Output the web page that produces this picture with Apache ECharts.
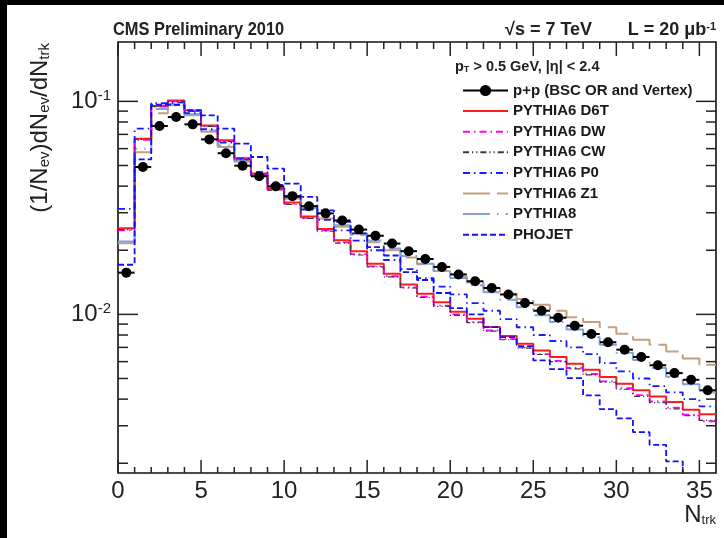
<!DOCTYPE html>
<html><head><meta charset="utf-8">
<script src="https://cdn.jsdelivr.net/npm/echarts@6/dist/echarts.min.js"></script>
<style>html,body{margin:0;padding:0;background:#fff;} #c{width:724px;height:538px;}</style>
</head><body><div id="c"></div>
<script>
// ---- data: per-bin values, bins of width 1 from 0 to 36 ----
const nBins = 36;
const dataPP = [0.0157,0.0492,0.0766,0.0844,0.0780,0.0663,0.0571,0.0499,0.0445,0.0399,0.0359,0.0322,0.0298,0.0276,0.0250,0.0234,0.0215,0.0198,0.0182,0.0167,0.0154,0.0143,0.0133,0.0124,0.0113,0.0104,0.00965,0.00885,0.00809,0.00740,0.00683,0.00631,0.00577,0.00530,0.00493,0.00440];
const d6t = [0.0254,0.0668,0.0950,0.1010,0.0905,0.0770,0.0656,0.0540,0.0458,0.0390,0.0335,0.0288,0.0252,0.0223,0.0198,0.0173,0.0155,0.0138,0.0125,0.0114,0.0103,0.00954,0.00872,0.00791,0.00728,0.00677,0.00630,0.00587,0.00550,0.00508,0.00473,0.00440,0.00412,0.00388,0.00357,0.00340];
const dw = [0.0248,0.0660,0.0945,0.1000,0.0900,0.0765,0.0650,0.0535,0.0452,0.0385,0.0330,0.0284,0.0248,0.0218,0.0192,0.0168,0.0151,0.0134,0.0121,0.0110,0.0100,0.00920,0.00840,0.00765,0.00700,0.00650,0.00605,0.00560,0.00525,0.00485,0.00450,0.00418,0.00390,0.00365,0.00338,0.00315];
const cw = [0.0250,0.0665,0.0948,0.1002,0.0898,0.0762,0.0648,0.0533,0.0450,0.0383,0.0328,0.0282,0.0246,0.0216,0.0190,0.0167,0.0150,0.0133,0.0120,0.0109,0.0099,0.00915,0.00835,0.00760,0.00695,0.00648,0.00600,0.00555,0.00520,0.00480,0.00445,0.00412,0.00385,0.00360,0.00335,0.00318];
const p0 = [0.0313,0.0745,0.0980,0.0990,0.0880,0.0740,0.0640,0.0540,0.0465,0.0405,0.0355,0.0310,0.0278,0.0248,0.0222,0.0200,0.0180,0.0163,0.0148,0.0135,0.0124,0.0113,0.0104,0.0095,0.0087,0.0080,0.0075,0.0070,0.0065,0.0059,0.0054,0.0050,0.0046,0.0043,0.0040,0.0037];
const z1 = [0.0216,0.0577,0.0880,0.0960,0.0860,0.0720,0.0610,0.0520,0.0450,0.0395,0.0350,0.0312,0.0282,0.0258,0.0236,0.0218,0.0200,0.0185,0.0172,0.0160,0.0150,0.0141,0.0133,0.0125,0.0118,0.0111,0.0104,0.0097,0.0092,0.0087,0.0081,0.0076,0.0072,0.0067,0.0062,0.0058];
const py8 = [0.0220,0.0600,0.0920,0.0970,0.0870,0.0730,0.0620,0.0530,0.0455,0.0395,0.0350,0.0315,0.0285,0.0262,0.0240,0.0222,0.0204,0.0188,0.0173,0.0160,0.0148,0.0137,0.0127,0.0117,0.0108,0.0099,0.0092,0.0085,0.0078,0.0072,0.0066,0.0061,0.0056,0.0051,0.0047,0.0043];
const phojet = [0.0171,0.0534,0.0965,0.0960,0.0910,0.0860,0.0745,0.0633,0.0548,0.0483,0.0411,0.0356,0.0308,0.0272,0.0240,0.0207,0.0189,0.0158,0.0145,0.0126,0.0107,0.0100,0.00872,0.00782,0.0071,0.00608,0.00553,0.00502,0.00417,0.00359,0.00325,0.0028,0.00244,0.00204,0.0017,0.0015];

const xMin = 0, xMax = 36, yMin = 0.0018, yMax = 0.19;
const xMajorTicks = [0,5,10,15,20,25,30,35];
const xMinorTicks = [1,2,3,4,6,7,8,9,11,12,13,14,16,17,18,19,21,22,23,24,26,27,28,29,31,32,33,34];
const yMajorTicks = [0.01,0.1];
const yMinorTicks = [0.002,0.003,0.004,0.005,0.006,0.007,0.008,0.009,0.02,0.03,0.04,0.05,0.06,0.07,0.08,0.09];

const FONT = "'Liberation Sans',Arial,sans-serif";

function histData(vals){
  const out = [];
  for (let i = 0; i < vals.length; i++) out.push([i, vals[i]]);
  out.push([vals.length, vals[vals.length-1]]);
  return out;
}
function histSeries(name, vals, color, width, dash, z){
  return {name: name, type:'line', step:'end', data: histData(vals), symbol:'none',
    lineStyle:{color: color, width: width, type: dash}, itemStyle:{color: color}, z: z||2, animation:false};
}

const models = [
  histSeries('PYTHIA6 D6T', d6t, '#ff1a1a', 2, 'solid', 3),
  histSeries('PYTHIA6 DW', dw, '#ff00ff', 1.8, [7,4,1.5,4], 3),
  histSeries('PYTHIA6 CW', cw, '#3a3a3a', 1.2, [6,3,1.2,3,1.2,3], 3),
  histSeries('PYTHIA6 P0', p0, '#1a1aff', 1.8, [7,4,1.5,4], 3),
  histSeries('PYTHIA6 Z1', z1, '#c4a07c', 2, [27,7], 2),
  histSeries('PYTHIA8', py8, '#7fa2d8', 2, [27,7,1.5,7], 2),
  histSeries('PHOJET', phojet, '#1010ff', 1.8, [6,3], 3)
];

const xTickData = xMajorTicks.map(v => [v, yMin, 1]).concat(xMinorTicks.map(v => [v, yMin, 0]));
const yTickData = yMajorTicks.map(v => [xMin, v, 1]).concat(yMinorTicks.map(v => [xMin, v, 0]));

const chart = echarts.init(document.getElementById('c'), null, {renderer:'canvas'});
chart.setOption({
  backgroundColor:'#fff',
  animation:false,
  grid:{left:118, right:8, top:42, bottom:65, show:true, borderColor:'#111', borderWidth:1.6, backgroundColor:'transparent'},
  xAxis:{type:'value', min:xMin, max:xMax, interval:5,
    axisLine:{show:false}, axisTick:{show:false}, splitLine:{show:false},
    axisLabel:{show:true, showMaxLabel:false, fontSize:24, color:'#222', fontFamily:FONT, margin:6}},
  yAxis:{type:'log', logBase:10, min:yMin, max:yMax,
    axisLine:{show:false}, axisTick:{show:false}, splitLine:{show:false},
    axisLabel:{show:true, showMinLabel:false, showMaxLabel:false, margin:7, fontFamily:FONT,
      formatter: function(v){
        const l = Math.log10(v), e = Math.round(l);
        if (Math.abs(l - e) > 1e-6) return '';
        return '{b|10}{s|' + e + '}';
      },
      rich:{b:{fontSize:24, color:'#222', fontFamily:FONT, lineHeight:26}, s:{fontSize:15, color:'#222', fontFamily:FONT, verticalAlign:'top', lineHeight:15}}
    }},
  legend:{orient:'vertical', left:457, top:78, itemWidth:45, itemHeight:14, itemGap:5.6, selectedMode:false,
    itemStyle:{opacity:0},
    textStyle:{fontSize:15, fontWeight:'bold', color:'#1a1a1a', fontFamily:FONT},
    data:[
      {name:'p+p (BSC OR and Vertex)', lineStyle:{width:2, color:'#000', opacity:1}, itemStyle:{opacity:1, color:'#000'}},
      'PYTHIA6 D6T','PYTHIA6 DW','PYTHIA6 CW','PYTHIA6 P0','PYTHIA6 Z1','PYTHIA8','PHOJET'
    ]},
  graphic:[
    {type:'rect', shape:{x:0,y:0,width:7,height:538}, style:{fill:'#000'}, z:100},
    {type:'rect', shape:{x:0,y:0,width:724,height:5}, style:{fill:'#000'}, z:100},
    {type:'text', x:113, y:30, scaleX:0.91, style:{text:'CMS Preliminary 2010', font:"bold 18px "+FONT, fill:'#222', verticalAlign:'middle'}},
    {type:'text', x:505, y:30, style:{text:'√s = 7 TeV', font:"bold 18px "+FONT, fill:'#222', verticalAlign:'middle'}},
    {type:'text', x:716, y:30, style:{text:'L = 20 μb{s|-1}', font:"bold 18px "+FONT, fill:'#222', align:'right', verticalAlign:'middle',
      rich:{s:{fontSize:11, fontWeight:'bold', fontFamily:FONT, verticalAlign:'top'}}}},
    {type:'text', x:455, y:67, style:{text:'p{s|T} > 0.5 GeV, |η| < 2.4', font:"bold 14.5px "+FONT, fill:'#222', verticalAlign:'middle',
      rich:{s:{fontSize:9, fontWeight:'bold', verticalAlign:'bottom'}}}},
    {type:'text', x:40, y:43, rotation:Math.PI/2, style:{text:'(1/N{s|ev})dN{s|ev}/dN{s|trk}', font:"24px "+FONT, fill:'#222', align:'right', verticalAlign:'middle',
      rich:{s:{fontSize:15, fontFamily:FONT, verticalAlign:'bottom'}}}},
    {type:'text', right:8, top:503, style:{text:'N{s|trk}', font:"24px "+FONT, fill:'#222',
      rich:{s:{fontSize:13, fontFamily:FONT, verticalAlign:'bottom'}}}}
  ],
  series: models.concat([
    {type:'custom', name:'xticks', silent:true, data:xTickData, z:20,
      renderItem:function(params, api){
        const v = api.value(0), major = api.value(2);
        const pb = api.coord([v, yMin]), pt = api.coord([v, yMax]);
        const lb = major ? 13 : 6, lt = major ? 14 : 7;
        return {type:'group', children:[
          {type:'line', shape:{x1:pb[0],y1:pb[1],x2:pb[0],y2:pb[1]-lb}, style:{stroke:'#222', lineWidth:1.5}},
          {type:'line', shape:{x1:pt[0],y1:pt[1],x2:pt[0],y2:pt[1]+lt}, style:{stroke:'#222', lineWidth:1.5}}
        ]};
      }},
    {type:'custom', name:'yticks', silent:true, data:yTickData, z:20,
      renderItem:function(params, api){
        const v = api.value(1), major = api.value(2);
        const pl = api.coord([xMin, v]), pr = api.coord([xMax, v]);
        const len = major ? 20 : 10;
        return {type:'group', children:[
          {type:'line', shape:{x1:pl[0],y1:pl[1],x2:pl[0]+len,y2:pl[1]}, style:{stroke:'#222', lineWidth:1.5}},
          {type:'line', shape:{x1:pr[0],y1:pr[1],x2:pr[0]-len,y2:pr[1]}, style:{stroke:'#222', lineWidth:1.5}}
        ]};
      }},
    {type:'custom', name:'xerr', silent:true, z:9, data:dataPP.map((v,i)=>[i+0.5, v]),
      renderItem:function(params, api){
        const a = api.coord([api.value(0)-0.5, api.value(1)]), b = api.coord([api.value(0)+0.5, api.value(1)]);
        return {type:'line', shape:{x1:a[0],y1:a[1],x2:b[0],y2:b[1]}, style:{stroke:'#000', lineWidth:2}};
      }},
    {name:'p+p (BSC OR and Vertex)', type:'line', data:dataPP.map((v,i)=>[i+0.5, v]), symbol:'circle', symbolSize:10,
      itemStyle:{color:'#000'}, lineStyle:{width:0, color:'#000'}, z:10}
  ])
});
</script></body></html>
